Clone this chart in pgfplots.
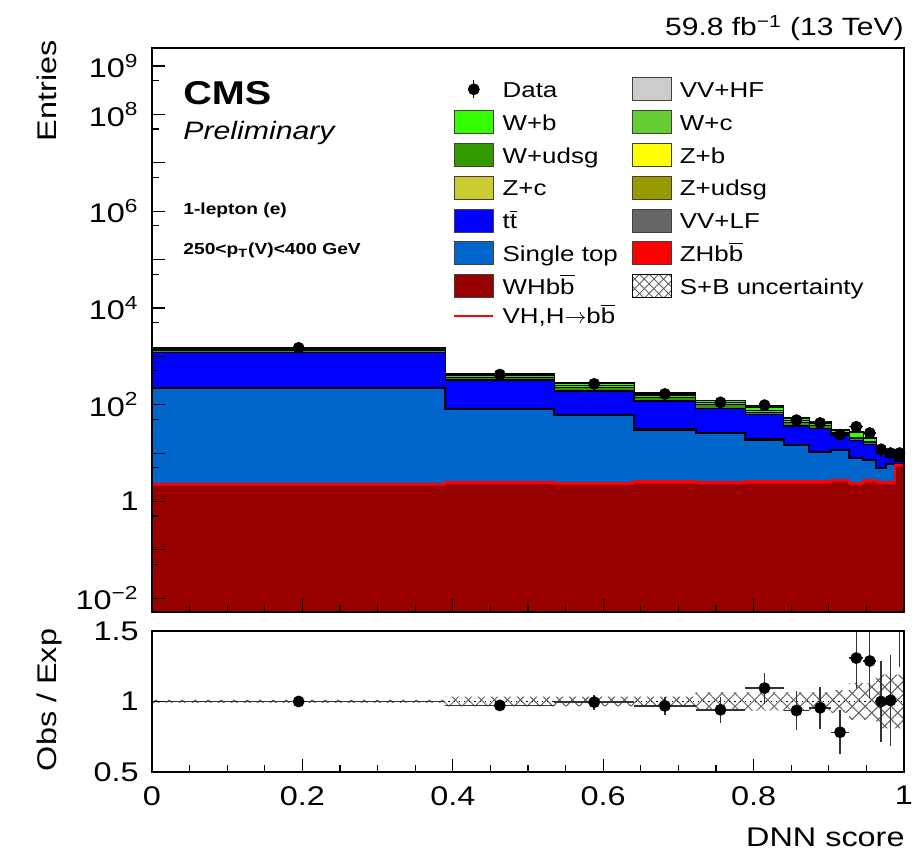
\documentclass[border=0pt]{standalone}
\usepackage{fontspec}
\setmainfont{Liberation Sans}[FakeStretch=1.2]
\usepackage{pgfplots}
\pgfplotsset{compat=1.18}
\usepackage{pgfplotstable}
\usetikzlibrary{patterns.meta}

\definecolor{cWH}{RGB}{153,0,0}
\definecolor{cZH}{RGB}{255,0,0}
\definecolor{cST}{RGB}{0,102,204}
\definecolor{cTT}{RGB}{0,0,255}
\definecolor{cVVLF}{RGB}{102,102,102}
\definecolor{cZudsg}{RGB}{153,153,0}
\definecolor{cZc}{RGB}{204,204,51}
\definecolor{cZb}{RGB}{255,255,0}
\definecolor{cWudsg}{RGB}{51,153,0}
\definecolor{cWc}{RGB}{102,204,51}
\definecolor{cWb}{RGB}{51,255,0}
\definecolor{cVVHF}{RGB}{204,204,204}
\definecolor{hatch}{RGB}{95,95,95}

% cumulative stack levels, rows at lower bin edges (last row repeats last bin at x=1)
\pgfplotstableread{
x      wh    zh   st    vvlf  tt    zj    wudsg  wc    wb    tot
0.000  2.1   2.3  223   227   1180  1200  1340   1420  1480  1500
0.390  2.25  2.5  83    85    320   328   375    405   430   440
0.535  2.2   2.4  61    62.5  189   194   228    250   272   280
0.641  2.35  2.6  30.5  31.5  118   121   143    158   171   175
0.723  2.25  2.5  26    26.8  83    85    100    110   121   124
0.789  2.35  2.6  19    19.6  62    63.5  70     76    90    93
0.840  2.35  2.6  14.5  15    36    37    43     47    52    53
0.874  2.35  2.6  10.4  10.8  32    33    38     41    44    45
0.903  2.55  2.8  11.5  11.9  23    23.6  25     26.5  29.8  30.5
0.927  2.2   2.4  7.9   8.2   18    18.5  20     21.5  26.5  27.3
0.946  2.45  2.7  7.3   7.5   14.9  15.3  16.5   17.5  20    20.5
0.963  2.25  2.5  4.9   5.0   10    10.3  11     11.6  12.0  12.3
0.976  2.25  2.5  6.0   6.1   8.3   8.5   8.8    9.1   9.5   9.6
0.988  5.2   5.7  6.0   6.1   6.8   6.9   7.1    7.3   7.9   8.0
1.000  5.2   5.7  6.0   6.1   6.8   6.9   7.1    7.3   7.9   8.0
}\stack

\pgfplotstableread{
x       d     ex      ey
0.195   1500  0.195   38.7
0.4625  420   0.0725  20.5
0.588   270   0.053   16.4
0.682   167   0.041   12.9
0.756   112   0.033   10.6
0.8145  98    0.0255  9.9
0.857   48    0.017   6.9
0.8885  42    0.0145  6.5
0.915   24    0.012   4.9
0.9365  35    0.0095  5.9
0.9545  26    0.0085  5.1
0.9695  12    0.0065  3.5
0.982   10    0.006   3.2
0.994   10    0.006   3.2
}\data

% ratio points inside the panel range
\pgfplotstableread{
x       r      ex      ey
0.195   1.000  0.195   0.02
0.4625  0.972  0.0725  0.035
0.588   0.995  0.053   0.053
0.682   0.969  0.041   0.065
0.756   0.941  0.033   0.09
0.8145  1.095  0.0255  0.11
0.857   0.936  0.017   0.135
0.8885  0.955  0.0145  0.15
0.915   0.782  0.012   0.155
0.9365  1.308  0.0095  0.21
0.9545  1.287  0.0085  0.26
0.9695  1.000  0.0065  0.29
0.982   1.007  0.006   0.32
}\ratio

\pgfplotstableread{
x      up     lo
0.000  1.012  0.988
0.390  1.035  0.965
0.535  1.035  0.965
0.641  1.035  0.965
0.723  1.065  0.935
0.789  1.065  0.935
0.840  1.065  0.935
0.874  1.065  0.935
0.903  1.08   0.92
0.927  1.13   0.87
0.946  1.13   0.87
0.963  1.19   0.81
0.976  1.19   0.81
0.988  1.19   0.81
1.000  1.19   0.81
}\band

\pgfplotsset{
  swatch/.style={legend image code/.code={%
      \draw[##1, line width=0.5pt] (0pt,-4.45pt) rectangle (19.5pt,7.05pt);}},
  cmsaxis/.style={
    scale only axis, width=376pt, xmin=0, xmax=1,
    axis line style={line width=1pt},
    tick style={line width=0.6pt, black},
    major tick length=6.5pt, minor tick length=3.3pt,
    tick align=inside, tick pos=left,
    axis on top,
    tick label style={font=\fontsize{13.5}{16}\selectfont},
    xtick={0,0.2,0.4,0.6,0.8,1}, minor x tick num=3,
  },
}

\begin{document}
\begin{tikzpicture}
\useasboundingbox (0pt,0pt) rectangle (461pt,428pt);

\begin{axis}[cmsaxis, name=top, at={(76pt,122pt)}, anchor=south west, height=282pt,
  ymode=log, log origin=infty, ymin=5.2e-3, ymax=2.36e9,
  xticklabels={,,,,,},
  ytick={1e-2,1e-1,1,1e1,1e2,1e3,1e4,1e5,1e6,1e7,1e8,1e9},
  yticklabels={10\textsuperscript{−2},,1,,10\textsuperscript{2},,10\textsuperscript{4},,10\textsuperscript{6},,10\textsuperscript{8},10\textsuperscript{9}},
  minor ytick={5e-3,5e-2,5e-1,5,5e1,5e2,5e3,5e4,5e5,5e6,5e7,5e8},
  yticklabel style={inner sep=0pt, xshift=-6.5pt},
  legend columns=2, legend cell align=left,
  legend style={draw=none, fill=none, inner sep=0pt, outer sep=0pt,
    at={(axis description cs:0.4003,0.9480)}, anchor=north west,
    font=\fontsize{10.8}{13}\selectfont, row sep=3.35pt,
    nodes={inner sep=0pt, text height=8.5pt, text depth=3pt},
    /tikz/every odd column/.append style={column sep=4pt},
    /tikz/every even column/.append style={column sep=7pt}},
]
\addplot[forget plot, const plot, fill=cVVHF, draw=black, line width=0.6pt] table[x=x,y=tot]{\stack} \closedcycle;
\addplot[forget plot, const plot, fill=cWb, draw=black, line width=0.4pt] table[x=x,y=wb]{\stack} \closedcycle;
\addplot[forget plot, const plot, fill=cWc, draw=black, line width=0.4pt] table[x=x,y=wc]{\stack} \closedcycle;
\addplot[forget plot, const plot, fill=cWudsg, draw=black, line width=0.4pt] table[x=x,y=wudsg]{\stack} \closedcycle;
\addplot[forget plot, const plot, fill=cZudsg, draw=black, line width=0.4pt] table[x=x,y=zj]{\stack} \closedcycle;
\addplot[forget plot, const plot, fill=cTT, draw=black, line width=0.6pt] table[x=x,y=tt]{\stack} \closedcycle;
\addplot[forget plot, const plot, fill=cVVLF, draw=black, line width=0.6pt] table[x=x,y=vvlf]{\stack} \closedcycle;
\addplot[forget plot, const plot, fill=cST, draw=black, line width=1pt] table[x=x,y=st]{\stack} \closedcycle;
\addplot[forget plot, const plot, fill=cZH, draw=none] table[x=x,y=zh]{\stack} \closedcycle;
\addplot[forget plot, const plot, fill=cWH, draw=none] table[x=x,y=wh]{\stack} \closedcycle;
\addplot[forget plot, const plot, cZH, line width=1.2pt] table[x=x,y=zh]{\stack};
\addplot[forget plot, only marks, mark=*, mark size=2.75pt, black,
  error bars/.cd, x dir=both, x explicit, y dir=both, y explicit,
  error mark=none, error bar style={line width=0.6pt, black}]
  table[x=x, y=d, x error=ex, y error=ey]{\data};

\addlegendimage{legend image code/.code={%
  \draw[black, line width=0.6pt] (9.75pt,-3.14pt) -- (9.75pt,5.76pt);
  \fill[black] (9.75pt,1.31pt) circle (2.75pt);}}
\addlegendentry{Data}
\addlegendimage{swatch, fill=cVVHF, draw=black!75}
\addlegendentry{VV+HF}
\addlegendimage{swatch, fill=cWb, draw=black!75}
\addlegendentry{W+b}
\addlegendimage{swatch, fill=cWc, draw=black!75}
\addlegendentry{W+c}
\addlegendimage{swatch, fill=cWudsg, draw=black!75}
\addlegendentry{W+udsg}
\addlegendimage{swatch, fill=cZb, draw=black!75}
\addlegendentry{Z+b}
\addlegendimage{swatch, fill=cZc, draw=black!75}
\addlegendentry{Z+c}
\addlegendimage{swatch, fill=cZudsg, draw=black!75}
\addlegendentry{Z+udsg}
\addlegendimage{swatch, fill=cTT, draw=black!75}
\addlegendentry{t$\overline{\mbox{t}}$}
\addlegendimage{swatch, fill=cVVLF, draw=black!75}
\addlegendentry{VV+LF}
\addlegendimage{swatch, fill=cST, draw=black!75}
\addlegendentry{Single top}
\addlegendimage{swatch, fill=cZH, draw=black!75}
\addlegendentry{ZHb$\overline{\mbox{b}}$}
\addlegendimage{swatch, fill=cWH, draw=black!75}
\addlegendentry{WHb$\overline{\mbox{b}}$}
\addlegendimage{legend image code/.code={%
  \fill[pattern={Lines[angle=45,distance=3.4pt,line width=0.45pt]}, pattern color=hatch] (0pt,-4.45pt) rectangle (19.5pt,7.05pt);
  \fill[pattern={Lines[angle=-45,distance=3.4pt,line width=0.45pt]}, pattern color=hatch] (0pt,-4.45pt) rectangle (19.5pt,7.05pt);}}
\addlegendentry{S+B uncertainty}
\addlegendimage{legend image code/.code={%
  \draw[cZH, line width=1.3pt] (0pt,1.31pt) -- (19.5pt,1.31pt);}}
\addlegendentry{VH,H$\rightarrow$b$\overline{\mbox{b}}$}
\end{axis}

\begin{axis}[cmsaxis, name=rat, at={(76pt,42pt)}, anchor=south west, height=70.5pt,
  ymin=0.5, ymax=1.5, ytick={0.5,1,1.5}, yticklabels={0.5,1,1.5},
  yticklabel style={inner sep=0pt, xshift=-6.5pt},
  xticklabels={0,0.2,0.4,0.6,0.8,1},
  xticklabel style={inner sep=0pt, yshift=-7pt},
]
% hatched S+B band: hatch up to the upper edge, then white below the lower edge
\addplot[forget plot, const plot, draw=none, pattern={Lines[angle=45,distance=4.6pt,line width=0.5pt]}, pattern color=hatch] table[x=x,y=up]{\band} \closedcycle;
\addplot[forget plot, const plot, draw=none, pattern={Lines[angle=-45,distance=4.6pt,line width=0.5pt]}, pattern color=hatch] table[x=x,y=up]{\band} \closedcycle;
\addplot[forget plot, const plot, draw=none, fill=white] table[x=x,y=lo]{\band} \closedcycle;
\addplot[forget plot, black, dotted, line width=0.6pt] coordinates {(0,1) (1,1)};
\addplot[forget plot, only marks, mark=*, mark size=2.75pt, black,
  error bars/.cd, x dir=both, x explicit, y dir=both, y explicit,
  error mark=none, error bar style={line width=0.7pt, black!80}]
  table[x=x, y=r, x error=ex, y error=ey]{\ratio};
% last bin: ratio 1.62 +- 0.376, point above the panel, only its error bar is seen
\addplot[forget plot, black!80, line width=0.7pt] coordinates {(0.994,1.244) (0.994,1.996)};
\end{axis}

\node[anchor=base east, inner sep=0pt, font=\fontsize{12.5}{15}\selectfont] at (452pt,410pt) {59.8 fb\textsuperscript{−1} (13 TeV)};
\node[anchor=base west, inner sep=0pt, font=\fontsize{16.5}{19}\selectfont\bfseries] at (91.5pt,375.5pt) {CMS};
\node[anchor=base west, inner sep=0pt, font=\fontsize{12.6}{15}\selectfont\itshape] at (91.5pt,358pt) {Preliminary};
\node[anchor=base west, inner sep=0pt, font=\fontsize{8}{10}\selectfont\bfseries] at (91.5pt,320.5pt) {1-lepton (e)};
\node[anchor=base west, inner sep=0pt, font=\fontsize{8}{10}\selectfont\bfseries] at (91.5pt,300.5pt) {250<p\textsubscript{T}(V)<400 GeV};
\node[rotate=90, anchor=base east, inner sep=0pt, font=\fontsize{13.5}{16}\selectfont] at (28pt,408pt) {Entries};
\node[rotate=90, anchor=base, inner sep=0pt, font=\fontsize{13.5}{16}\selectfont] at (28pt,78pt) {Obs / Exp};
\node[anchor=base east, inner sep=0pt, font=\fontsize{13.5}{16}\selectfont] at (452.5pt,4.5pt) {DNN score};
\end{tikzpicture}
\end{document}
